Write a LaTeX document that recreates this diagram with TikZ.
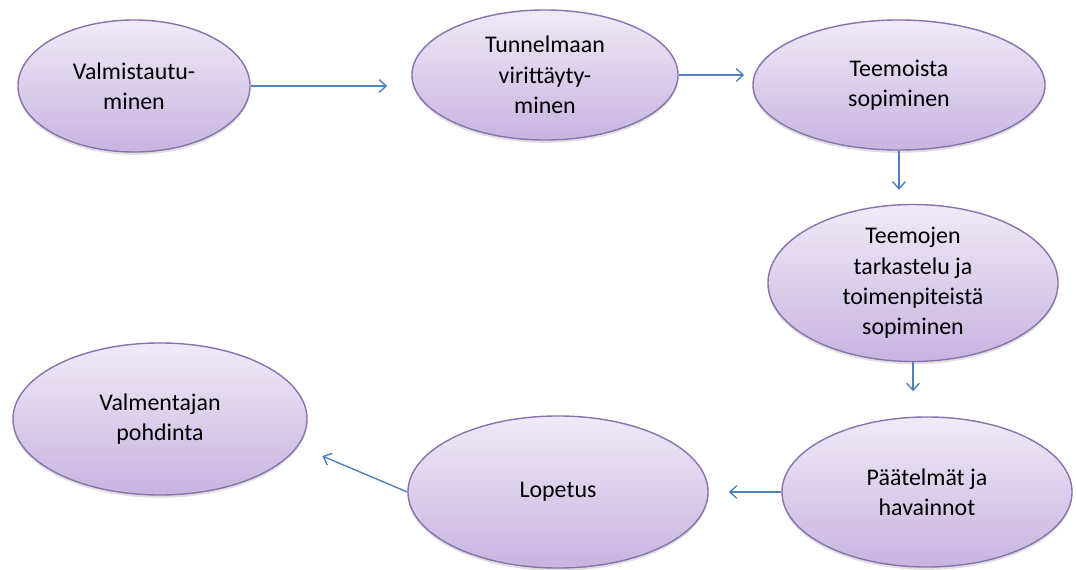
\documentclass[tikz,border=0pt]{standalone}
\usepackage{fontspec}
\setmainfont{Carlito}
\usetikzlibrary{shapes.geometric,arrows.meta,shadows}
\definecolor{rim}{HTML}{8A72AE}
\definecolor{lilactop}{HTML}{F0EAF7}
\definecolor{lilacbottom}{HTML}{C7B4E0}
\definecolor{flow}{HTML}{4F81BD}
\begin{document}
\begin{tikzpicture}[x=0.025cm,y=-0.025cm,
    stage/.style={ellipse,draw=rim,line width=1pt,top color=lilactop,bottom color=lilacbottom,
        inner sep=0pt,align=center,font=\fontsize{17}{21.5}\selectfont,
        drop shadow={shadow xshift=0pt,shadow yshift=-2pt,opacity=0.25,fill=black!50}},
    link/.style={draw=flow,line width=1pt,-{Straight Barb[length=5pt,width=9pt]}}]
                    \useasboundingbox (0,0) rectangle (1076,570);
                    \node[stage,minimum width=5.8cm,minimum height=3.3cm] at (134, 86) (prep) {Valmistautu-\\minen};
                    \node[stage,minimum width=6.65cm,minimum height=3.25cm] at (545, 75) (tune) {Tunnelmaan\\virittäyty-\\minen};
                    \node[stage,minimum width=7.3cm,minimum height=3.25cm] at (899, 85) (agree) {Teemoista\\sopiminen};
                    \node[stage,minimum width=7.25cm,minimum height=3.8cm] at (913, 283) (review) {Teemojen\\tarkastelu ja\\toimenpiteistä\\sopiminen};
                    \node[stage,minimum width=7.25cm,minimum height=3.75cm] at (927, 492) (findings) {Päätelmät ja\\havainnot};
                    \node[stage,minimum width=7.5cm,minimum height=3.8cm] at (558, 492) (closing) {Lopetus};
                    \node[stage,minimum width=7.35cm,minimum height=3.8cm] at (160, 419) (reflect) {Valmentajan\\pohdinta};

                    \path[link,shorten >=0.6cm] (prep.east) -- (prep.east -| tune.west);
                    \path[link,shorten >=0.2cm] (tune.east) -- (tune.east -| agree.west);
                    \path[link,shorten >=0.35cm] (agree.south) -- (agree.south |- review.north);
                    \path[link,shorten >=0.625cm] (review.south) -- (review.south |- findings.north);
                    \path[link,shorten >=0.5cm] (findings.west) -- (findings.west -| closing.east);
                    \path[link,shorten >=0.65cm] (closing.west) -- (reflect.-11);
                \end{tikzpicture}
\end{document}
